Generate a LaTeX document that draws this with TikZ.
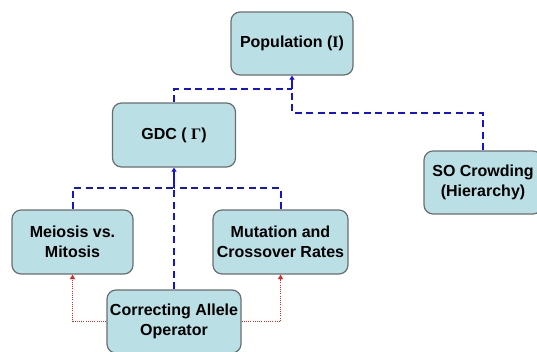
\documentclass[tikz,border=0pt]{standalone}
\usepackage{fontspec}
\setmainfont{Liberation Sans}
\newfontfamily\grk{Liberation Serif}
\usetikzlibrary{arrows.meta}
\definecolor{boxfill}{RGB}{186,223,228}
\definecolor{boxline}{RGB}{105,110,112}
\definecolor{linkblue}{RGB}{20,20,215}
\definecolor{linkred}{RGB}{225,35,35}
\tikzset{
  box/.style={draw=boxline, line width=1.2pt, fill=boxfill, rounded corners=9pt,
    align=center, inner sep=0pt,
    font=\fontsize{16}{19.5}\selectfont\bfseries},
  feed/.style={draw=linkblue, line width=2pt, dash pattern=on 7pt off 4.5pt},
  feedtip/.style={draw=linkblue, line width=2pt, -{Triangle[width=5pt,length=4pt]}},
  tweak/.style={draw=linkred, line width=1.6pt, dash pattern=on 1pt off 1.2pt,
    -{Triangle[width=5pt,length=4.5pt]}}
}
\begin{document}
\begin{tikzpicture}[x=1pt,y=-1pt]
\useasboundingbox (0,0) rectangle (537,351);
% boxes
\node[box, minimum width=122pt, minimum height=63pt] (pop) at (292,43.5) {Population ({\grk Ι})};
\node[box, minimum width=123pt, minimum height=64pt] (gdc) at (174,135) {GDC ( {\grk Γ})};
\node[box, minimum width=121pt, minimum height=64pt] (mei) at (72.5,242) {Meiosis vs.\\Mitosis};
\node[box, minimum width=135pt, minimum height=64pt] (mut) at (280.5,242) {Mutation and\\Crossover Rates};
\node[box, minimum width=134pt, minimum height=63pt] (cor) at (174,321.5) {Correcting Allele\\Operator};
\node[box, minimum width=118pt, minimum height=63pt] (so) at (483,182.5) {SO Crowding\\(Hierarchy)};
% junction points of the dashed links
\coordinate (popbus) at (292,89);
\coordinate (sobend) at (292,113);
\coordinate (gdcbus) at (174,188);
% links into the population
\draw[feed] (gdc.north) |- (popbus);
\draw[feed] (so.north) |- (sobend) -- (popbus);
\draw[feedtip] (popbus) -- (pop.south);
% links into the GDC
\draw[feed] (cor.north) -- (gdcbus);
\draw[feed] (mei.north) |- (gdcbus);
\draw[feed] (mut.north) |- (gdcbus);
\draw[feedtip] (gdcbus) -- (gdc.south);
% operator adjustments
\draw[tweak] (cor.west) -| (mei.south);
\draw[tweak] (cor.east) -| (mut.south);
\end{tikzpicture}
\end{document}
